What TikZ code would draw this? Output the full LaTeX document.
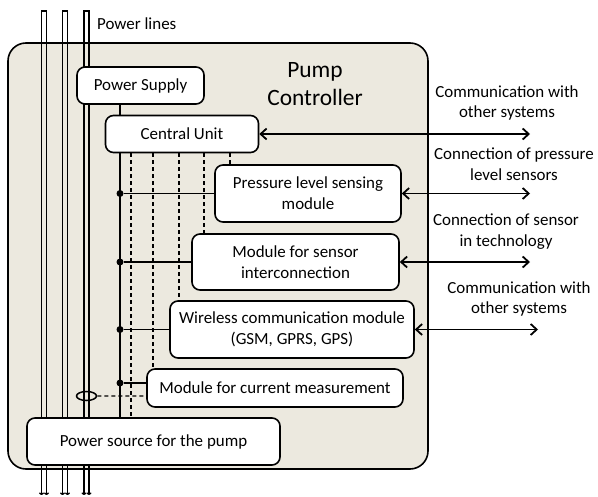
\documentclass[tikz,border=0pt]{standalone}
\usepackage{fontspec}
\setmainfont{Carlito}
\usetikzlibrary{arrows.meta,shapes.geometric}
\definecolor{panel}{RGB}{236,233,223}
\begin{document}
\begin{tikzpicture}[x=1bp,y=-1bp,
  txt/.style={font=\fontsize{17}{21}\selectfont},
  box/.style={draw, line width=1.6bp, rounded corners=8bp, fill=white, inner sep=0pt, align=center, txt},
  pipe/.style={line width=1.4bp, {To[length=2.5bp,width=5bp]}-{To[length=2.5bp,width=5bp]}},
  bus/.style={line width=1.8bp},
  ctl/.style={line width=1.4bp, dash pattern=on 4bp off 3bp},
  link/.style={line width=1.8bp, {Straight Barb[length=6bp,width=11bp]}-{Straight Barb[length=6bp,width=11bp]}},
  junction/.style={circle, fill, inner sep=0pt, minimum size=7bp},
]
\useasboundingbox (0,0) rectangle (598,497);

% controller housing
\node[draw, line width=1.6bp, fill=panel, rounded corners=18bp, minimum width=420bp,
      minimum height=426bp, inner sep=0pt] (ctrl) at (218,256) {};
\node[font=\fontsize{23.5}{28}\selectfont, align=center] (title) at (315,84) {Pump\\Controller};

% power lines (three hollow conductors)
\foreach \xl/\xr in {41.5/46.5, 62.5/67.5, 84/89}
  \draw[pipe] (\xl,495) -- (\xl,11) -- (\xr,11) -- (\xr,495);
\node[txt, anchor=west, inner sep=0pt] (plines) at (97,24) {Power lines};

% modules
\node[box, minimum width=127bp, minimum height=37bp] (psupply) at (140.5,85.5) {Power Supply};
\node[box, minimum width=153bp, minimum height=37bp] (central) at (182,134) {Central Unit};
\node[box, minimum width=186bp, minimum height=57bp] (pressure) at (308,193.5) {Pressure level sensing\\module};
\node[box, minimum width=207bp, minimum height=56bp] (sensor) at (295.5,262) {Module for sensor\\interconnection};
\node[box, minimum width=244bp, minimum height=57bp] (wireless) at (292,329.5) {Wireless communication module\\(GSM, GPRS, GPS)};
\node[box, minimum width=256bp, minimum height=38bp] (current) at (275,388) {Module for current measurement};
\node[box, minimum width=253bp, minimum height=47bp] (source) at (153.5,441.5) {Power source for the pump};

% current sensing ring around a conductor
\node[draw, ellipse, line width=1.5bp, inner sep=0pt, minimum width=20bp, minimum height=9bp] (ring) at (86.5,396) {};

% supply bus
\coordinate (bx) at (120,0);
\draw[bus] (psupply.south -| bx) -- (central.north -| bx);
\draw[bus] (central.south -| bx) -- (source.north -| bx);
\coordinate (cw) at ([yshift=5bp]current.west);
\coordinate (cd) at ([yshift=-8bp]current.west);
\node[junction] (j1) at (bx |- pressure.west) {};
\node[junction] (j2) at (bx |- sensor.west) {};
\node[junction] (j3) at (bx |- wireless.west) {};
\node[junction] (j4) at (bx |- cw) {};
\draw[bus] (j1) -- (pressure.west);
\draw[bus] (j2) -- (sensor.west);
\draw[bus] (j3) -- (wireless.west);
\draw[bus] (j4) -- (cw);

% control lines from the central unit
\coordinate (d1) at (230,0);
\coordinate (d2) at (204,0);
\coordinate (d3) at (179,0);
\coordinate (d4) at (153,0);
\coordinate (d5) at (131,0);
\draw[ctl] (central.south -| d1) -- (pressure.north -| d1);
\draw[ctl] (central.south -| d2) -- (sensor.north -| d2);
\draw[ctl] (central.south -| d3) -- (wireless.north -| d3);
\draw[ctl] (central.south -| d4) -- (current.north -| d4);
\draw[ctl] (central.south -| d5) -- (source.north -| d5);
\draw[ctl] (ring.east) -- (cd);

% external links
\coordinate (e1) at (530,0);
\coordinate (e2) at (538,0);
\draw[link] (central.east) -- (central.east -| e1);
\draw[link] (pressure.east) -- (pressure.east -| e1);
\draw[link] (sensor.east) -- (sensor.east -| e1);
\draw[link] (wireless.east) -- (wireless.east -| e2);

\node[txt, align=center] (l1) at (507,103) {Communication with\\other systems};
\node[txt, align=center] (l2) at (514,164.5) {Connection of pressure\\level sensors};
\node[txt, align=center] (l3) at (506,231.5) {Connection of sensor\\in technology};
\node[txt, align=center] (l4) at (519,299) {Communication with\\other systems};
\end{tikzpicture}
\end{document}
